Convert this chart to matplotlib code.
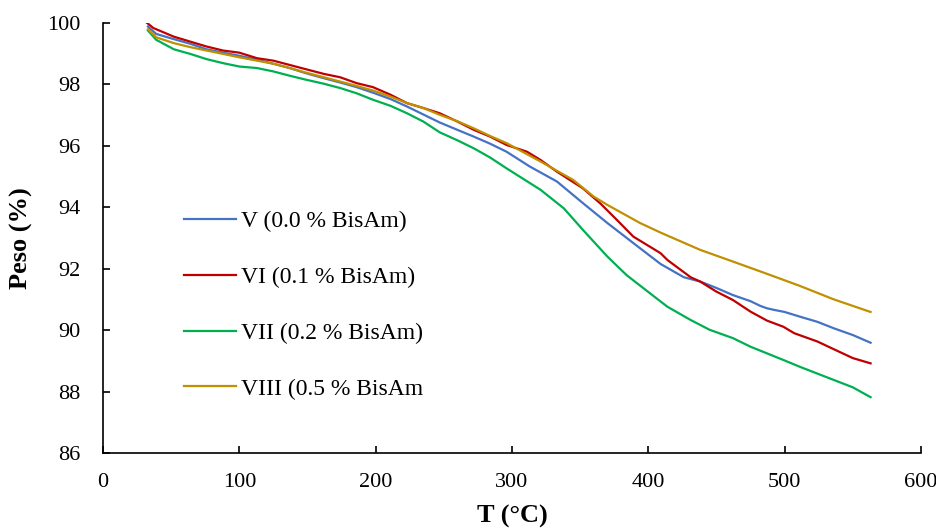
import matplotlib
matplotlib.use("Agg")
import matplotlib.pyplot as plt

plt.rcParams['font.family'] = ['Liberation Serif', 'DejaVu Serif']

# V (0.0 % BisAm)
t_v = [33, 39, 52, 64, 76, 88, 100, 113, 125, 137, 149, 162, 174, 186, 198, 211, 223,
       235, 247, 260, 272, 284, 296, 313, 333, 352, 370, 389, 409, 426, 438, 450,
       462, 475, 482, 487, 492, 500, 511, 524, 536, 550, 563]
w_v = [99.88, 99.64, 99.47, 99.32, 99.14, 99.03, 98.93, 98.80, 98.67, 98.53, 98.36,
       98.20, 98.06, 97.91, 97.73, 97.52, 97.28, 97.02, 96.76, 96.52, 96.30, 96.07,
       95.81, 95.33, 94.84, 94.14, 93.49, 92.84, 92.16, 91.73, 91.59, 91.38,
       91.15, 90.95, 90.80, 90.72, 90.67, 90.60, 90.45, 90.28, 90.07, 89.85, 89.60]

# VI (0.1 % BisAm)
t_vi = [32, 37, 52, 64, 76, 88, 100, 113, 125, 137, 149, 162, 174, 186, 198, 211, 223,
        235, 247, 260, 272, 284, 296, 311, 321, 333, 352, 365, 377, 389, 409, 414, 431,
        438, 450, 462, 475, 487, 499, 507, 524, 536, 550, 563]
w_vi = [100.01, 99.83, 99.55, 99.39, 99.23, 99.10, 99.03, 98.85, 98.77, 98.63, 98.49,
        98.34, 98.23, 98.04, 97.91, 97.66, 97.39, 97.23, 97.06, 96.79, 96.52, 96.30,
        96.03, 95.81, 95.54, 95.16, 94.62, 94.12, 93.59, 93.05, 92.51, 92.29, 91.73,
        91.59, 91.26, 90.99, 90.61, 90.32, 90.12, 89.91, 89.64, 89.39, 89.10, 88.93]

# VII (0.2 % BisAm)
t_vii = [33, 39, 52, 64, 76, 88, 100, 113, 125, 137, 149, 162, 174, 186, 198, 211, 223,
         235, 247, 260, 272, 284, 296, 321, 338, 352, 370, 384, 409, 414, 431, 445,
         462, 475, 499, 511, 536, 550, 563]
w_vii = [99.75, 99.45, 99.14, 98.99, 98.82, 98.69, 98.58, 98.53, 98.42, 98.28, 98.15,
         98.02, 97.88, 97.71, 97.50, 97.30, 97.06, 96.79, 96.44, 96.18, 95.92, 95.62,
         95.27, 94.57, 93.97, 93.27, 92.40, 91.80, 90.94, 90.77, 90.34, 90.02,
         89.75, 89.47, 89.04, 88.82, 88.39, 88.15, 87.83]

# VIII (0.5 % BisAm
t_viii = [33, 39, 52, 64, 76, 88, 100, 113, 125, 137, 149, 162, 174, 186, 198, 211, 223,
          235, 247, 260, 272, 284, 296, 321, 345, 360, 370, 394, 409, 438, 462, 487, 511,
          536, 563]
w_viii = [99.79, 99.53, 99.34, 99.21, 99.10, 98.99, 98.88, 98.77, 98.67, 98.53, 98.38,
          98.23, 98.09, 97.95, 97.80, 97.60, 97.39, 97.23, 97.01, 96.80, 96.57, 96.32,
          96.09, 95.49, 94.89, 94.35, 94.08, 93.49, 93.18, 92.62, 92.24, 91.84, 91.45,
          91.01, 90.60]

labels = ["V (0.0 % BisAm)", "VI (0.1 % BisAm)", "VII (0.2 % BisAm)", "VIII (0.5 % BisAm"]
colors = ["#4472C4", "#C00000", "#00B050", "#BF9000"]

fig = plt.figure(figsize=(9.36, 5.31), dpi=100)
ax = fig.add_axes([0.110, 0.146, 0.874, 0.811])

series = [(t_v, w_v), (t_vi, w_vi), (t_vii, w_vii), (t_viii, w_viii)]
for (t, w), lab, c in zip(series, labels, colors):
    ax.plot(t, w, color=c, lw=1.6, label=lab)

ax.set_xlim(0, 600)
ax.set_ylim(86, 100)
ax.set_xticks(range(0, 601, 100))
ax.set_yticks(range(86, 101, 2))
ax.spines['top'].set_visible(False)
ax.spines['right'].set_visible(False)
for s in ('left', 'bottom'):
    ax.spines[s].set_linewidth(1.2)
ax.tick_params(direction='in', length=5, width=1.2, labelsize=16)
ax.tick_params(axis='y', pad=16)
ax.tick_params(axis='x', pad=14)

ax.set_xlabel("T (°C)", fontsize=19, fontweight='bold', labelpad=9)
ax.set_ylabel("Peso (%)", fontsize=19, fontweight='bold', labelpad=10)

ax.legend(loc='center left', bbox_to_anchor=(0.088, 0.344), frameon=False, fontsize=17,
          handlelength=2.2, handletextpad=0.2, labelspacing=1.45, borderaxespad=0)

fig.savefig("out.png", dpi=100)
